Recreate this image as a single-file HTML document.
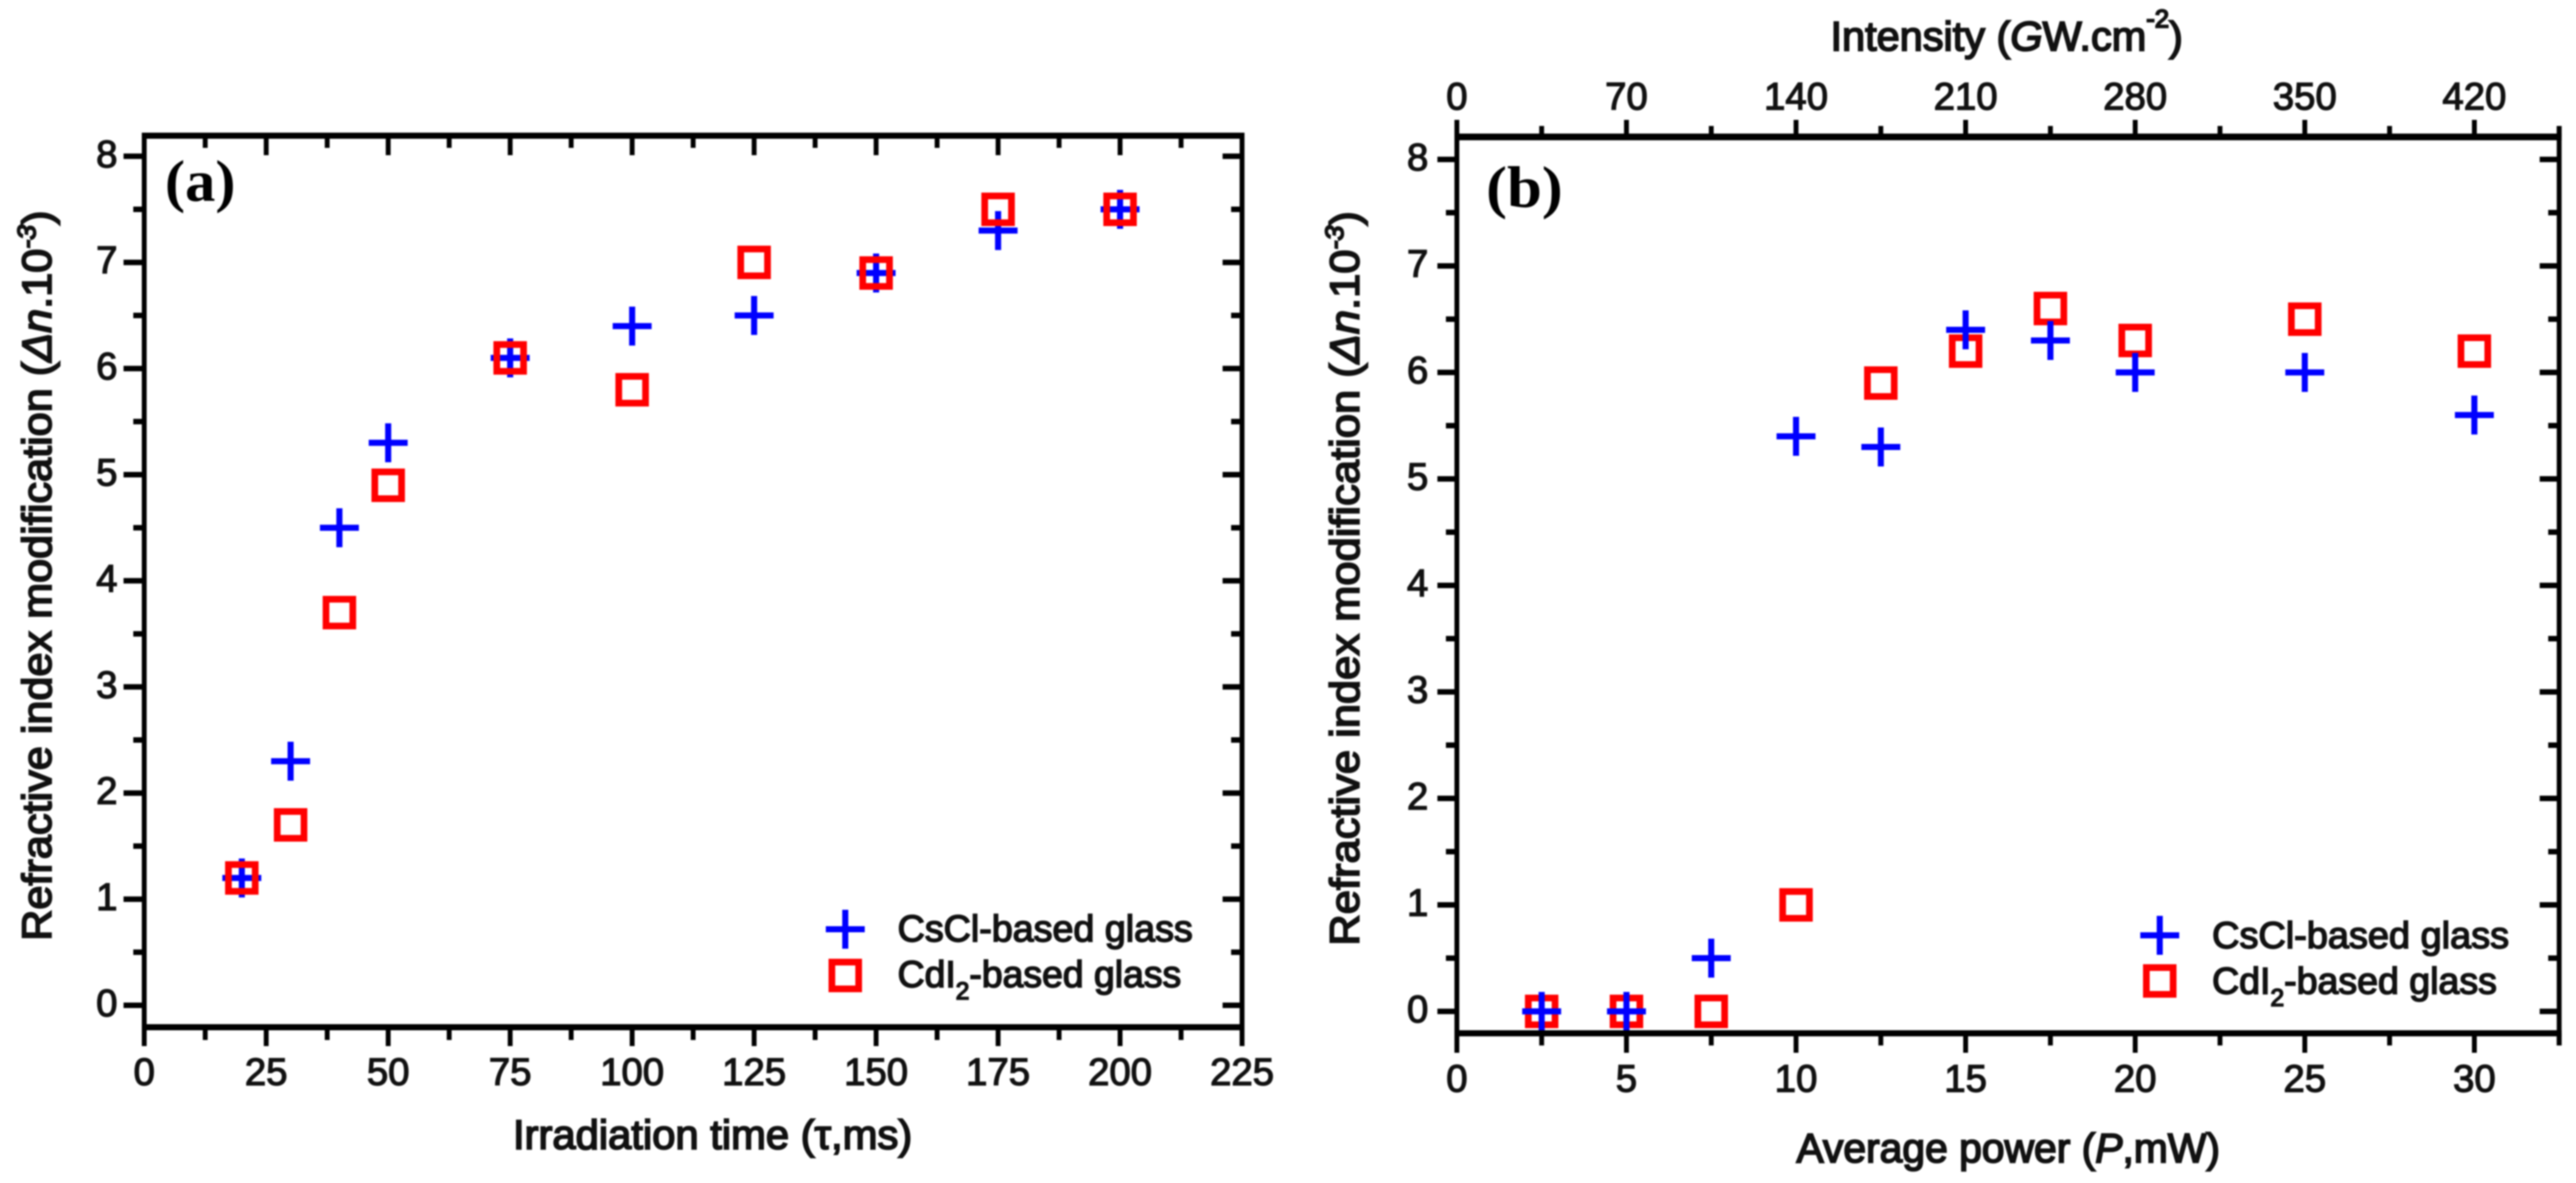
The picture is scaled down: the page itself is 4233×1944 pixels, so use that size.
<!DOCTYPE html>
<html lang="en">
<head>
<meta charset="utf-8">
<title>Refractive index modification charts</title>
<style>
html,body{margin:0;padding:0;background:#fff;}
svg{display:block;filter:blur(1.2px);}
text{font-family:"Liberation Sans",sans-serif;fill:#111;stroke:#111;stroke-width:2px;}
.panel{font-family:"Liberation Serif",serif;font-weight:bold;font-size:96px;stroke:none;fill:#000;}
.title{font-size:68px;stroke-width:2.8px;}
.legend{font-size:61px;stroke-width:2.4px;}
.tick{font-size:63px;}
</style>
</head>
<body>
<svg id="chart" xmlns="http://www.w3.org/2000/svg" width="4233" height="1944" viewBox="0 0 4233 1944">
  <rect x="0" y="0" width="4233" height="1944" fill="#ffffff"/>

  <g id="panel-a">
    <g id="a-marks"></g>
    <g id="a-axes"></g>
    <text class="panel" x="271" y="330" textLength="116" lengthAdjust="spacingAndGlyphs">(a)</text>
    <text class="title" x="843" y="1888" textLength="656" lengthAdjust="spacingAndGlyphs">Irradiation time (τ,ms)</text>
    <text class="title" transform="translate(84,1546) rotate(-90)" x="0" y="0" textLength="1200" lengthAdjust="spacingAndGlyphs">Refractive index modification (<tspan font-style="italic">Δn</tspan>.10<tspan font-style="italic" font-size="42" dy="-26">-3</tspan><tspan dy="26">)</tspan></text>
    <g id="a-legend">
      <text class="legend" x="1475" y="1547" textLength="485" lengthAdjust="spacingAndGlyphs">CsCl-based glass</text>
      <text class="legend" x="1475" y="1622" textLength="466" lengthAdjust="spacingAndGlyphs">CdI<tspan font-size="40" dy="20">2</tspan><tspan dy="-20">-based glass</tspan></text>
    </g>
  </g>

  <g id="panel-b">
    <g id="b-marks"></g>
    <g id="b-axes"></g>
    <text class="panel" x="2442" y="340" textLength="126" lengthAdjust="spacingAndGlyphs">(b)</text>
    <text class="title" x="3008" y="83" textLength="579" lengthAdjust="spacingAndGlyphs">Intensity (<tspan font-style="italic">G</tspan>W.cm<tspan font-size="42" dy="-38">-2</tspan><tspan dy="38">)</tspan></text>
    <text class="title" x="2952" y="1910" textLength="696" lengthAdjust="spacingAndGlyphs">Average power (<tspan font-style="italic">P</tspan>,mW)</text>
    <text class="title" transform="translate(2233,1554) rotate(-90)" x="0" y="0" textLength="1207" lengthAdjust="spacingAndGlyphs">Refractive index modification (<tspan font-style="italic">Δn</tspan>.10<tspan font-style="italic" font-size="42" dy="-26">-3</tspan><tspan dy="26">)</tspan></text>
    <g id="b-legend">
      <text class="legend" x="3635" y="1558" textLength="488" lengthAdjust="spacingAndGlyphs">CsCl-based glass</text>
      <text class="legend" x="3635" y="1633" textLength="468" lengthAdjust="spacingAndGlyphs">CdI<tspan font-size="40" dy="20">2</tspan><tspan dy="-20">-based glass</tspan></text>
    </g>
  </g>
</svg>
<script>
// Panel (a) data
var aTimes = [20, 30, 40, 50, 75, 100, 125, 150, 175, 200];
var aCsCl = [1.2, 2.3, 4.5, 5.3, 6.1, 6.4, 6.5, 6.9, 7.3, 7.5];
var aCdI2 = [1.2, 1.7, 3.7, 4.9, 6.1, 5.8, 7.0, 6.9, 7.5, 7.5];
var aXTickLabels = [0, 25, 50, 75, 100, 125, 150, 175, 200, 225];
var aXMinorTicks = [12.5, 37.5, 62.5, 87.5, 112.5, 137.5, 162.5, 187.5, 212.5];
// Panel (b) data
var bPower = [2.5, 5, 7.5, 10, 12.5, 15, 17.5, 20, 25, 30];
var bCsCl = [0, 0, 0.5, 5.4, 5.3, 6.4, 6.3, 6.0, 6.0, 5.6];
var bCdI2 = [0, 0, 0, 1, 5.9, 6.2, 6.6, 6.3, 6.5, 6.2];
var bXTickLabels = [0, 5, 10, 15, 20, 25, 30];
var bXMinorTicks = [2.5, 7.5, 12.5, 17.5, 22.5, 27.5, 32.5];
var bTopTickLabels = [0, 70, 140, 210, 280, 350, 420];
var bTopMinorTicks = [35, 105, 175, 245, 315, 385, 455];
// Shared y axis
var yTickLabels = [0, 1, 2, 3, 4, 5, 6, 7, 8];
var yMinorTicks = [0.5, 1.5, 2.5, 3.5, 4.5, 5.5, 6.5, 7.5];

// Axis functions
function xA(v) { return 237 + v * (2041 - 237) / 225; }
function yA(v) { return 1652 - v * 174.4; }
function xB(v) { return 2394 + v * (4066 - 2394) / 30; }
function xBTop(v) { return 2394 + v * (4066 - 2394) / 420; }
function yB(v) { return 1662 - v * 175; }

var NS = 'http://www.w3.org/2000/svg';
function line(parent, x1, y1, x2, y2, w, color) {
  var el = document.createElementNS(NS, 'line');
  el.setAttribute('x1', x1);
  el.setAttribute('y1', y1);
  el.setAttribute('x2', x2);
  el.setAttribute('y2', y2);
  el.setAttribute('stroke', color || '#000');
  el.setAttribute('stroke-width', w);
  parent.appendChild(el);
  return el;
}
function label(parent, x, y, txt, anchor) {
  var el = document.createElementNS(NS, 'text');
  el.setAttribute('class', 'tick');
  el.setAttribute('x', x);
  el.setAttribute('y', y);
  el.setAttribute('text-anchor', anchor);
  el.textContent = txt;
  parent.appendChild(el);
  return el;
}
function plus(parent, cx, cy) {
  var g = document.createElementNS(NS, 'g');
  line(g, cx - 32, cy, cx + 32, cy, 10, '#0000ff');
  line(g, cx, cy - 32, cx, cy + 32, 10, '#0000ff');
  parent.appendChild(g);
  return g;
}
function square(parent, cx, cy) {
  var el = document.createElementNS(NS, 'rect');
  el.setAttribute('x', cx - 22);
  el.setAttribute('y', cy - 22);
  el.setAttribute('width', 44);
  el.setAttribute('height', 44);
  el.setAttribute('fill', 'none');
  el.setAttribute('stroke', '#ff0000');
  el.setAttribute('stroke-width', 11);
  parent.appendChild(el);
  return el;
}

var aAxes = document.getElementById('a-axes');
var bAxes = document.getElementById('b-axes');
var aMarks = document.getElementById('a-marks');
var bMarks = document.getElementById('b-marks');
var aLegend = document.getElementById('a-legend');
var bLegend = document.getElementById('b-legend');
var el, i, x, y;

// ----- Panel (a) axes -----
var aL = xA(0), aR = xA(225), aT = 223, aB = 1688;
el = line(aAxes, aL - 4, aT, aR + 4, aT, 10);


el = line(aAxes, aL - 4, aB, aR + 4, aB, 10);


el = line(aAxes, aL, aT, aL, 1719, 8);


el = line(aAxes, aR, aT, aR, 1719, 8);



for (i = 0; i < aXTickLabels.length; i++) {
  x = xA(aXTickLabels[i]);
  el = line(aAxes, x, aB, x, 1719, 8);
  
  
  el = line(aAxes, x, aT, x, 255, 8);
  
  
  el = label(aAxes, x, 1783, String(aXTickLabels[i]), 'middle');
  
  
}
for (i = 0; i < aXMinorTicks.length; i++) {
  x = xA(aXMinorTicks[i]);
  el = line(aAxes, x, aB, x, 1709, 8);
  
  
  el = line(aAxes, x, aT, x, 243, 8);
  
  
}
for (i = 0; i < yTickLabels.length; i++) {
  y = yA(yTickLabels[i]);
  el = line(aAxes, aL - 34, y, aL, y, 9);
  
  
  el = line(aAxes, aR - 32, y, aR, y, 9);
  
  
  el = label(aAxes, 193, y + 18, String(yTickLabels[i]), 'end');
  
  
}
for (i = 0; i < yMinorTicks.length; i++) {
  y = yA(yMinorTicks[i]);
  el = line(aAxes, aL - 18, y, aL, y, 9);
  
  
  el = line(aAxes, aR - 18, y, aR, y, 9);
  
  
}

// ----- Panel (a) marks -----
for (i = 0; i < aTimes.length; i++) {
  el = plus(aMarks, xA(aTimes[i]), yA(aCsCl[i]));
  
  
}
for (i = 0; i < aTimes.length; i++) {
  el = square(aMarks, xA(aTimes[i]), yA(aCdI2[i]));
  
  
}
el = plus(aLegend, 1389, 1527);


el = square(aLegend, 1389, 1603);



// ----- Panel (b) axes -----
var bL = xB(0), bR = xB(32.5), bT = 225, bBt = 1698;
el = line(bAxes, bL - 4, bT, bR + 4, bT, 11);


el = line(bAxes, bL - 4, bBt, bR + 4, bBt, 10);


el = line(bAxes, bL, 197, bL, 1730, 8);


el = line(bAxes, bR, 207, bR, 1718, 8);



for (i = 0; i < bXTickLabels.length; i++) {
  x = xB(bXTickLabels[i]);
  el = line(bAxes, x, bBt, x, 1730, 8);
  
  
  el = label(bAxes, x, 1794, String(bXTickLabels[i]), 'middle');
  
  
}
for (i = 0; i < bXMinorTicks.length; i++) {
  x = xB(bXMinorTicks[i]);
  el = line(bAxes, x, bBt, x, 1718, 8);
  
  
}
for (i = 0; i < bTopTickLabels.length; i++) {
  x = xBTop(bTopTickLabels[i]);
  el = line(bAxes, x, 197, x, bT, 8);
  
  
  el = label(bAxes, x, 180, String(bTopTickLabels[i]), 'middle');
  
  
}
for (i = 0; i < bTopMinorTicks.length; i++) {
  x = xBTop(bTopMinorTicks[i]);
  el = line(bAxes, x, 207, x, bT, 8);
  
  
}
for (i = 0; i < yTickLabels.length; i++) {
  y = yB(yTickLabels[i]);
  el = line(bAxes, bL - 32, y, bL, y, 9);
  
  
  el = line(bAxes, bR - 32, y, bR, y, 9);
  
  
  el = label(bAxes, 2347, y + 18, String(yTickLabels[i]), 'end');
  
  
}
for (i = 0; i < yMinorTicks.length; i++) {
  y = yB(yMinorTicks[i]);
  el = line(bAxes, bL - 18, y, bL, y, 9);
  
  
  el = line(bAxes, bR - 18, y, bR, y, 9);
  
  
}

// ----- Panel (b) marks -----
for (i = 0; i < bPower.length; i++) {
  el = square(bMarks, xB(bPower[i]), yB(bCdI2[i]));
  
  
}
for (i = 0; i < bPower.length; i++) {
  el = plus(bMarks, xB(bPower[i]), yB(bCsCl[i]));
  
  
}
el = plus(bLegend, 3549, 1537);


el = square(bLegend, 3549, 1612);


</script>
</body>
</html>
